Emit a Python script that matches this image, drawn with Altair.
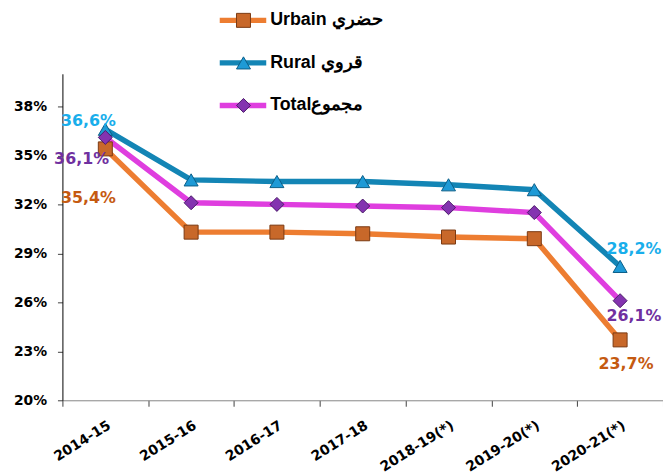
import altair as alt
import pandas as pd

years = ["2014-15", "2015-16", "2016-17", "2017-18", "2018-19(*)", "2019-20(*)", "2020-21(*)"]
series_names = ["Urbain", "Rural", "Total"]
legend_labels = ["Urbain حضري", "Rural  قروي", "Totalمجموع"]
urbain = [35.4, 30.3, 30.3, 30.2, 30.0, 29.9, 23.7]
rural = [36.6, 33.5, 33.4, 33.4, 33.2, 32.9, 28.2]
total = [36.1, 32.1, 32.0, 31.9, 31.8, 31.5, 26.1]
y_ticks = [20, 23, 26, 29, 32, 35, 38]

line_colors = ["#ED7D31", "#1385B5", "#DF3EDF"]
marker_fills = ["#C8682A", "#1E9AD6", "#8433B0"]
marker_strokes = ["#7A3A12", "#0B5E88", "#4A1A68"]
label_colors = ["#C55A11", "#19AEEB", "#7030A0"]
shapes = ["square", "triangle-up", "diamond"]

rows = []
for name, vals in zip(series_names, [urbain, rural, total]):
    for yr, v in zip(years, vals):
        rows.append({"series": name, "year": yr, "value": v})
df = pd.DataFrame(rows)

color_scale = alt.Scale(domain=series_names, range=line_colors)
fill_scale = alt.Scale(domain=series_names, range=marker_fills)
stroke_scale = alt.Scale(domain=series_names, range=marker_strokes)
shape_scale = alt.Scale(domain=series_names, range=shapes)

x_enc = alt.X(
    "year:N", sort=years, bandPosition=0.5,
    scale=alt.Scale(type="band", domain=years, paddingInner=0, paddingOuter=0),
    axis=alt.Axis(title=None, labelAngle=-32, tickBand="extent", tickSize=6,
                  labelFont="DejaVu Sans", labelFontSize=14, labelFontWeight="bold",
                  labelColor="#000000", labelPadding=12, domainColor="#868686",
                  tickColor="#404040", grid=False),
)
y_enc = alt.Y(
    "value:Q",
    scale=alt.Scale(domain=[20, 40], nice=False, zero=False),
    axis=alt.Axis(title=None, values=y_ticks, labelExpr="datum.value + '%'", grid=False,
                  tickSize=5, labelPadding=11, labelFont="DejaVu Sans", labelFontSize=14,
                  labelFontWeight="bold", labelColor="#000000", domainColor="#000000",
                  tickColor="#404040"),
)

base = alt.Chart(df)
lines = base.mark_line(strokeWidth=5.5).encode(
    x=x_enc, y=y_enc,
    color=alt.Color("series:N", scale=color_scale, legend=None),
    detail="series:N",
)
points = base.mark_point(filled=True, opacity=1, strokeWidth=1, size=200).encode(
    x=x_enc, y=y_enc,
    fill=alt.Fill("series:N", scale=fill_scale, legend=None),
    stroke=alt.Stroke("series:N", scale=stroke_scale, legend=None),
    shape=alt.Shape("series:N", scale=shape_scale, legend=None),
)

label_offsets = [
    ("Rural", years[0], -17, -8),
    ("Total", years[0], -24, 22),
    ("Urbain", years[0], -17, 50),
    ("Rural", years[-1], 14, -18),
    ("Total", years[-1], 14, 16),
    ("Urbain", years[-1], 6, 24),
]
label_layers = []
for s, yr, dx, dy in label_offsets:
    col = label_colors[series_names.index(s)]
    t = base.transform_filter(
        (alt.datum.series == s) & (alt.datum.year == yr)
    ).transform_calculate(
        txt="replace(format(datum.value, '.1f'), '.', ',') + '%'"
    ).mark_text(dx=dx, dy=dy, font="DejaVu Sans", fontSize=16, fontWeight="bold",
                color=col, align="center", baseline="middle").encode(
        x=x_enc, y=y_enc, text="txt:N"
    )
    label_layers.append(t)

main = alt.layer(lines, points, *label_layers)

leg_df = pd.DataFrame({"series": series_names, "label": legend_labels})
leg_y = alt.Y("series:N", sort=series_names,
              scale=alt.Scale(type="point", domain=series_names, range=[-54, 32], padding=0),
              axis=None)
leg_base = alt.Chart(leg_df)
leg_line = leg_base.mark_rule(strokeWidth=5.5).encode(
    x=alt.value(159), x2=alt.value(206), y=leg_y,
    color=alt.Color("series:N", scale=color_scale, legend=None),
)
leg_pt = leg_base.mark_point(filled=True, opacity=1, strokeWidth=1, size=200).encode(
    x=alt.value(183), y=leg_y,
    fill=alt.Fill("series:N", scale=fill_scale, legend=None),
    stroke=alt.Stroke("series:N", scale=stroke_scale, legend=None),
    shape=alt.Shape("series:N", scale=shape_scale, legend=None),
)
leg_txt = leg_base.mark_text(align="left", baseline="middle", font="Liberation Sans",
                             fontSize=18, fontWeight="bold", color="#000000").encode(
    x=alt.value(210), y=leg_y, text="label:N"
)
legend = alt.layer(leg_line, leg_pt, leg_txt)

chart = alt.layer(main, legend).resolve_scale(y="independent").properties(
    width=607, height=330,
    autosize=alt.AutoSizeParams(type="none"),
    padding={"left": 55, "top": 64, "right": 0, "bottom": 72},
).configure_view(stroke=None)

chart.save("out.html", embed_options={"renderer": "svg", "actions": False})
